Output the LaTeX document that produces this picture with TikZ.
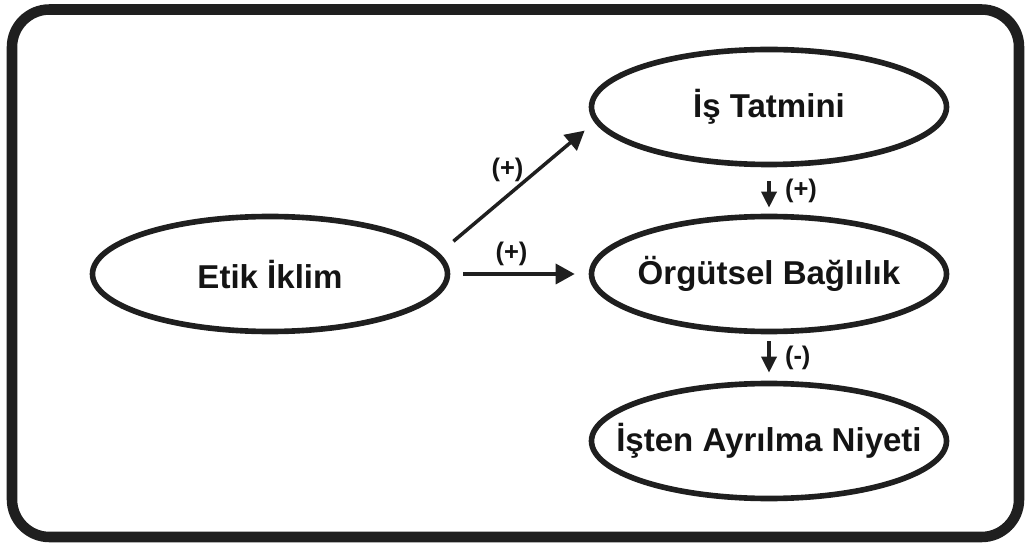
\documentclass[tikz,border=0pt]{standalone}
\usepackage{fontspec}
\setmainfont{Liberation Sans}
\usepackage{tikz}
\usetikzlibrary{shapes,arrows.meta,positioning}

\tikzset{
  oval/.style={ellipse, draw=black!88, line width=3.2pt, minimum width=7.1cm,
    minimum height=2.3cm, inner xsep=-1.5cm, inner ysep=0pt, text=black!92,
    font=\fontsize{18.8}{22}\selectfont\bfseries},
  link/.style={draw=black!88, line width=2pt, -{Triangle[length=0.38cm,width=0.4cm]}},
  sublink/.style={draw=black!88, line width=2pt, -{Triangle[length=0.32cm,width=0.3cm]}},
  sign/.style={text=black!92, inner sep=1pt, font=\fontsize{14.5}{16}\selectfont\bfseries},
}

\begin{document}
\begin{tikzpicture}
    \useasboundingbox (0,0) rectangle (20.5,10.88);
    % outer frame
    \draw[black!88, line width=6pt, rounded corners=0.75cm] (0.24,0.14) rectangle (20.38,10.69);
    % constructs
    \node[oval] (etik) at (5.4,5.4) {Etik İklim};
    \node[oval] (tatmin) at (15.38,8.74) {İş Tatmini};
    \node[oval] (bag) at (15.38,5.4) {Örgütsel Bağlılık};
    \node[oval] (niyet) at (15.38,2.06) {İşten Ayrılma Niyeti};
    % effects of ethical climate
    \draw[link, shorten <=0.37cm, shorten >=0.26cm] (etik.7) -- (tatmin.185)
        node[midway, sign, above left=0.05cm and 0cm, xshift=0.2cm] {(+)};
    \draw[link, shorten <=0.26cm, shorten >=0.28cm] (etik.east) -- (bag.west)
        node[midway, sign, above=0.1cm, xshift=-0.16cm] {(+)};
    % chain on the right
    \draw[sublink, shorten <=0.28cm, shorten >=0.12cm] (tatmin.south) -- (bag.north)
        node[midway, sign, right=0.25cm] {(+)};
    \draw[sublink, shorten <=0.14cm, shorten >=0.16cm] (bag.south) -- (niyet.north)
        node[midway, sign, right=0.25cm] {(-)};
\end{tikzpicture}
\end{document}
